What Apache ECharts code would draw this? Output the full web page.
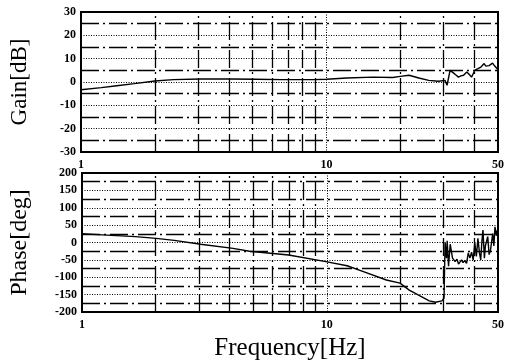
<!DOCTYPE html>
<html>
<head>
<meta charset="utf-8">
<script src="https://cdn.jsdelivr.net/npm/echarts@6/dist/echarts.min.js"></script>
<style>
  html, body { margin: 0; padding: 0; background: #fff; }
  #chart { width: 507px; height: 362px; }
</style>
</head>
<body>
<div id="chart"></div>
<script>
// Gain response: frequency [Hz] and gain [dB]
const gainFreq = [1, 1.21, 1.4, 1.65, 2.0, 2.38, 3.05, 4.1, 5.1, 6.6, 8.9, 10, 12.1, 15.5, 18.6, 20, 21.7, 23.8, 26.1, 28.6, 30.4,
  31.0, 31.4, 31.9, 32.4, 32.9, 33.7, 34.5, 35.3, 36.2, 37.3, 38.2, 39.0, 39.6, 40.2, 40.8, 41.4, 42.0, 42.6, 43.2,
  43.9, 44.6, 45.3, 46.0, 46.7, 47.5, 48.2, 49.0, 49.6, 50];
const gainDb = [-3.3, -2.4, -1.6, -0.7, 0.4, 1.0, 1.3, 1.3, 1.2, 1.0, 1.0, 1.2, 1.7, 2.1, 1.9, 2.4, 2.9, 1.7, 0.7, 0.3, 0.7,
  -1.4, 1.5, 5.0, 4.2, 3.9, 3.0, 2.1, 2.6, 2.9, 4.3, 3.2, 2.1, 3.5, 5.0, 4.4, 5.7, 5.2, 6.4, 5.8,
  7.9, 6.8, 7.2, 7.0, 6.5, 8.1, 7.2, 6.9, 5.7, 5.5];

// Phase response: frequency [Hz] and phase [deg]
const phaseFreq = [1, 1.21, 1.65, 2.01, 2.38, 3.05, 4.14, 4.83, 6.98, 9.9, 12.1, 14.1, 17.5, 19.9, 21.7, 23.9, 26.2, 27.8, 29.5, 30.1,
  30.4, 30.8, 31.0, 31.4, 31.9, 32.6, 33.4, 34.0, 34.5, 35.5, 36.0, 36.6, 37.2, 37.8, 38.4, 39.0, 39.6, 40.2, 40.8,
  41.4, 42.0, 42.5, 43.0, 43.4, 44.0, 44.4, 45.4, 46.0, 46.6, 47.6, 48.1, 48.6, 49.2, 49.6, 50];
const phaseDeg = [25, 22, 17, 12, 6, -5, -17, -25, -36, -55, -67, -84, -108, -117, -137, -153, -168, -172, -168, -160,
  0, -45, 5, -68, -5, -45, -55, -48, -62, -50, -58, -52, -60, -30, -45, -28, -50, -2, -40,
  12, -30, -50, 5, 36, -45, -10, 17, -35, -22, 26, -10, 45, 20, 35, 25];

// Minor frequency grid lines
const gridFreqs = [2, 3, 4, 5, 6, 7, 8, 9, 20, 30, 40];

const pairs = (xs, ys) => xs.map((x, i) => [x, ys[i]]);

const labelFont = { fontFamily: 'Liberation Serif', fontWeight: 'bold', color: '#000' };
const dotted = { color: '#000', width: 1, type: [1, 1.5] };
const dashDot = { color: '#000', width: 1.3, type: [18, 4, 2, 4] };

function xAxisFor(gridIndex, extra) {
  return Object.assign({
    gridIndex: gridIndex,
    type: 'log',
    logBase: 10,
    min: 1,
    max: 50,
    axisLine: { show: false },
    axisTick: { show: false },
    axisLabel: Object.assign({ fontSize: 12, margin: 7, showMaxLabel: true, showMinLabel: true }, labelFont),
    splitLine: { show: true, lineStyle: dotted }
  }, extra || {});
}

function yAxisFor(gridIndex, min, max, interval, name, nameSize) {
  return {
    gridIndex: gridIndex,
    type: 'value',
    min: min,
    max: max,
    interval: interval,
    name: name,
    nameLocation: 'middle',
    nameRotate: 90,
    nameGap: 50,
    nameTextStyle: { fontFamily: 'Liberation Serif', fontSize: nameSize, color: '#000' },
    axisLine: { show: false },
    axisTick: { show: false },
    axisLabel: Object.assign({ fontSize: 12, margin: 5 }, labelFont),
    splitLine: { show: true, lineStyle: dotted },
    minorTick: { show: false, splitNumber: 2 },
    minorSplitLine: { show: true, lineStyle: dashDot }
  };
}

function freqMarks() {
  return {
    silent: true,
    symbol: 'none',
    label: { show: false },
    lineStyle: dashDot,
    data: gridFreqs.map(f => ({ xAxis: f }))
  };
}

const chart = echarts.init(document.getElementById('chart'), null, { renderer: 'canvas' });

chart.setOption({
  animation: false,
  backgroundColor: '#fff',
  grid: [
    { left: 79, top: 12, width: 424, height: 140, show: true, borderColor: '#000', borderWidth: 2 },
    { left: 79, top: 173, width: 424, height: 139, show: true, borderColor: '#000', borderWidth: 2 }
  ],
  xAxis: [
    xAxisFor(0),
    xAxisFor(1, {
      name: 'Frequency[Hz]',
      nameLocation: 'middle',
      nameGap: 24,
      nameTextStyle: { fontFamily: 'Liberation Serif', fontSize: 25, color: '#000' }
    })
  ],
  yAxis: [
    yAxisFor(0, -30, 30, 10, 'Gain[dB]', 23),
    yAxisFor(1, -200, 200, 50, 'Phase[deg]', 24)
  ],
  series: [
    {
      type: 'line',
      xAxisIndex: 0,
      yAxisIndex: 0,
      data: pairs(gainFreq, gainDb),
      showSymbol: false,
      lineStyle: { color: '#000', width: 1.4 },
      markLine: freqMarks()
    },
    {
      type: 'line',
      xAxisIndex: 1,
      yAxisIndex: 1,
      data: pairs(phaseFreq, phaseDeg),
      showSymbol: false,
      lineStyle: { color: '#000', width: 1.4 },
      markLine: freqMarks()
    }
  ]
});
</script>
</body>
</html>
